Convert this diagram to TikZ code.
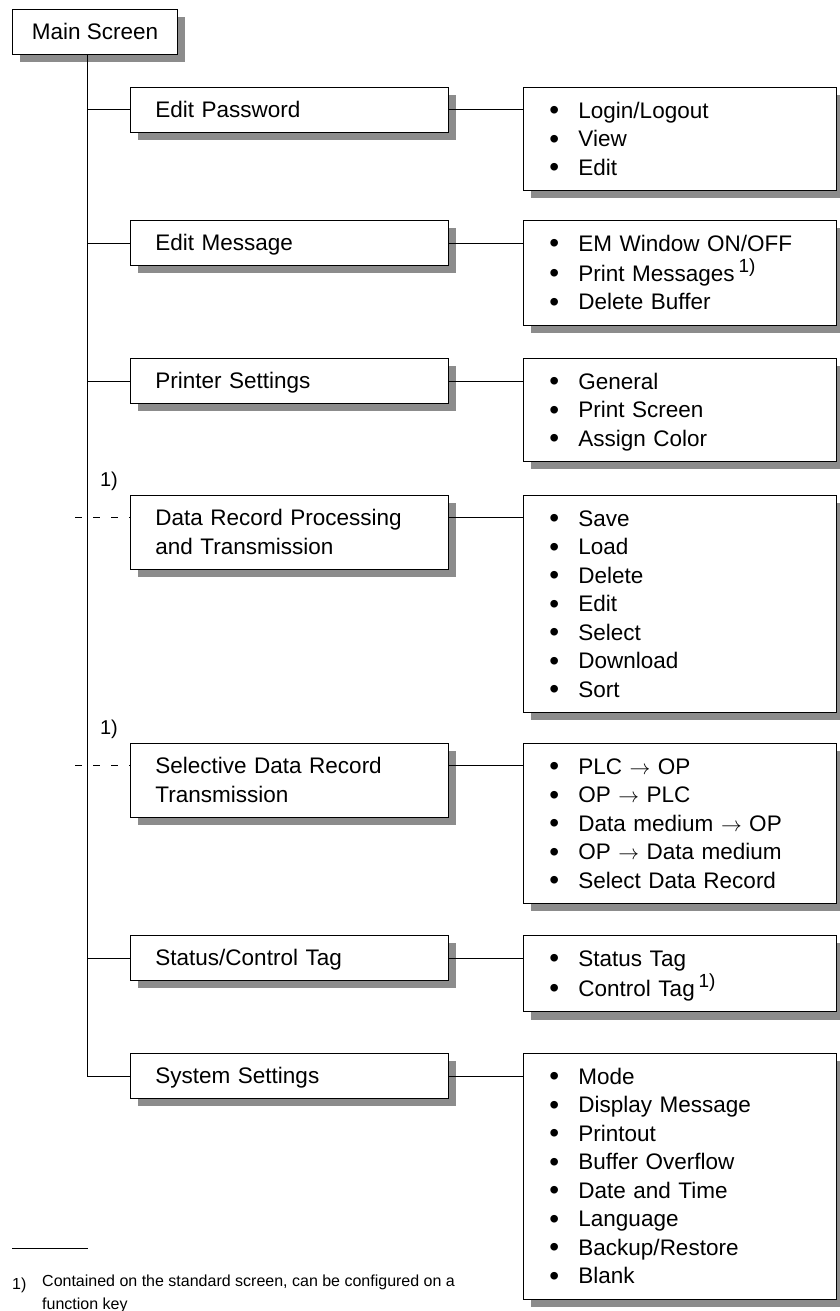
\documentclass[tikz,border=0pt]{standalone}
\usepackage{fontspec}
\setmainfont{Liberation Sans}
\usetikzlibrary{positioning,shadows,calc}

\definecolor{shadowgrey}{gray}{0.55}
\newcommand{\menustrut}{\rule[-6.5pt]{0pt}{28.5pt}}
\newcommand{\menuitem}[1]{\menustrut\makebox[29pt][l]{\raisebox{-1.5pt}{\fontsize{28}{28.5}\selectfont\textbullet}}#1}
\newcommand{\onemark}{\,\raisebox{9pt}{\fontsize{19}{19}\selectfont 1)}}

\begin{document}
\begin{tikzpicture}[x=1pt, y=-1pt,
    box/.style={draw, line width=0.9pt, fill=white, anchor=north west,
      drop shadow={shadow xshift=8pt, shadow yshift=-8pt, fill=shadowgrey, opacity=1},
      font=\fontsize{22.5}{28.5}\selectfont, align=left},
    menubox/.style={box, text width=268pt, inner xsep=25pt, inner ysep=8.25pt},
    listbox/.style={box, text width=261pt, inner xsep=26pt, inner ysep=8.75pt},
    note/.style={font=\fontsize{20}{22}\selectfont, inner sep=0pt},
    stub/.style={line width=0.9pt, dash pattern=on 7pt off 11pt},
    link/.style={line width=0.9pt}]
  \useasboundingbox (0,0) rectangle (839,1311);

  % main screen and the trunk
  \node[box, align=center, minimum width=165pt, inner xsep=0pt, inner ysep=8.25pt] (main) at (12,9) {\menustrut Main Screen};
  \coordinate (trunk) at ([xshift=-7.5pt]main.south);

  % left column
  \node[menubox] (edpw)   at (130,87)   {\menustrut Edit Password};
  \node[menubox] (edmsg)  at (130,220)  {\menustrut Edit Message};
  \node[menubox] (prnset) at (130,358)  {\menustrut Printer Settings};
  \node[menubox] (drproc) at (130,495)  {\menustrut Data Record Processing\\\menustrut and Transmission};
  \node[menubox] (seltr)  at (130,743)  {\menustrut Selective Data Record\\\menustrut Transmission};
  \node[menubox] (tags)   at (130,935)  {\menustrut Status/Control Tag};
  \node[menubox] (sysset) at (130,1053) {\menustrut System Settings};

  % right column
  \node[listbox] (lpw)  at (523,87)  {\menuitem{Login/Logout}\\\menuitem{View}\\\menuitem{Edit}};
  \node[listbox] (lmsg) at (523,220) {\menuitem{EM Window ON/OFF}\\\menuitem{Print Messages\onemark}\\\menuitem{Delete Buffer}};
  \node[listbox] (lprn) at (523,358) {\menuitem{General}\\\menuitem{Print Screen}\\\menuitem{Assign Color}};
  \node[listbox] (ldr)  at (523,495) {\menuitem{Save}\\\menuitem{Load}\\\menuitem{Delete}\\\menuitem{Edit}\\\menuitem{Select}\\\menuitem{Download}\\\menuitem{Sort}};
  \node[listbox] (lsel) at (523,743) {\menuitem{PLC $\rightarrow$ OP}\\\menuitem{OP $\rightarrow$ PLC}\\\menuitem{Data medium $\rightarrow$ OP}\\\menuitem{OP $\rightarrow$ Data medium}\\\menuitem{Select Data Record}};
  \node[listbox] (ltag) at (523,935) {\menuitem{Status Tag}\\\menuitem{Control Tag\onemark}};
  \node[listbox] (lsys) at (523,1053) {\menuitem{Mode}\\\menuitem{Display Message}\\\menuitem{Printout}\\\menuitem{Buffer Overflow}\\\menuitem{Date and Time}\\\menuitem{Language}\\\menuitem{Backup/Restore}\\\menuitem{Blank}};

  % first text line of the two-line boxes
  \coordinate (drin) at ([yshift=-22.5pt]drproc.north west);
  \coordinate (drout) at ([yshift=-22.5pt]drproc.north east);
  \coordinate (selin) at ([yshift=-22.5pt]seltr.north west);
  \coordinate (selout) at ([yshift=-22.5pt]seltr.north east);

  % connectors
  \draw[link] (trunk) |- (sysset.west);
  \draw[link] (trunk |- edpw.west) -- (edpw.west);
  \draw[link] (trunk |- edmsg.west) -- (edmsg.west);
  \draw[link] (trunk |- prnset.west) -- (prnset.west);
  \draw[link] (trunk |- tags.west) -- (tags.west);
  \draw[stub] ([xshift=-12pt]trunk |- drin) -- (drin);
  \draw[stub] ([xshift=-12pt]trunk |- selin) -- (selin);

  \draw[link] (edpw.east) -- (edpw.east -| lpw.west);
  \draw[link] (edmsg.east) -- (edmsg.east -| lmsg.west);
  \draw[link] (prnset.east) -- (prnset.east -| lprn.west);
  \draw[link] (drout) -- (drout -| ldr.west);
  \draw[link] (selout) -- (selout -| lsel.west);
  \draw[link] (tags.east) -- (tags.east -| ltag.west);
  \draw[link] (sysset.east) -- (sysset.east -| lsys.west);

  % footnote marks
  \node[note, above left=4pt and 12pt of drproc.north west] (drnote) {1)};
  \node[note, above left=4pt and 12pt of seltr.north west] (selnote) {1)};

  % footnote
  \draw[line width=0.8pt] (12,1248) -- (88,1248);
  \node[anchor=west, inner sep=0pt, font=\fontsize{16}{23}\selectfont] (fnnum) at (12,1285) {1)};
  \node[anchor=north west, inner sep=0pt, align=left, font=\fontsize{16}{23}\selectfont] (fntext) at (42,1275) {Contained on the standard screen, can be configured on a\\function key};
\end{tikzpicture}
\end{document}
